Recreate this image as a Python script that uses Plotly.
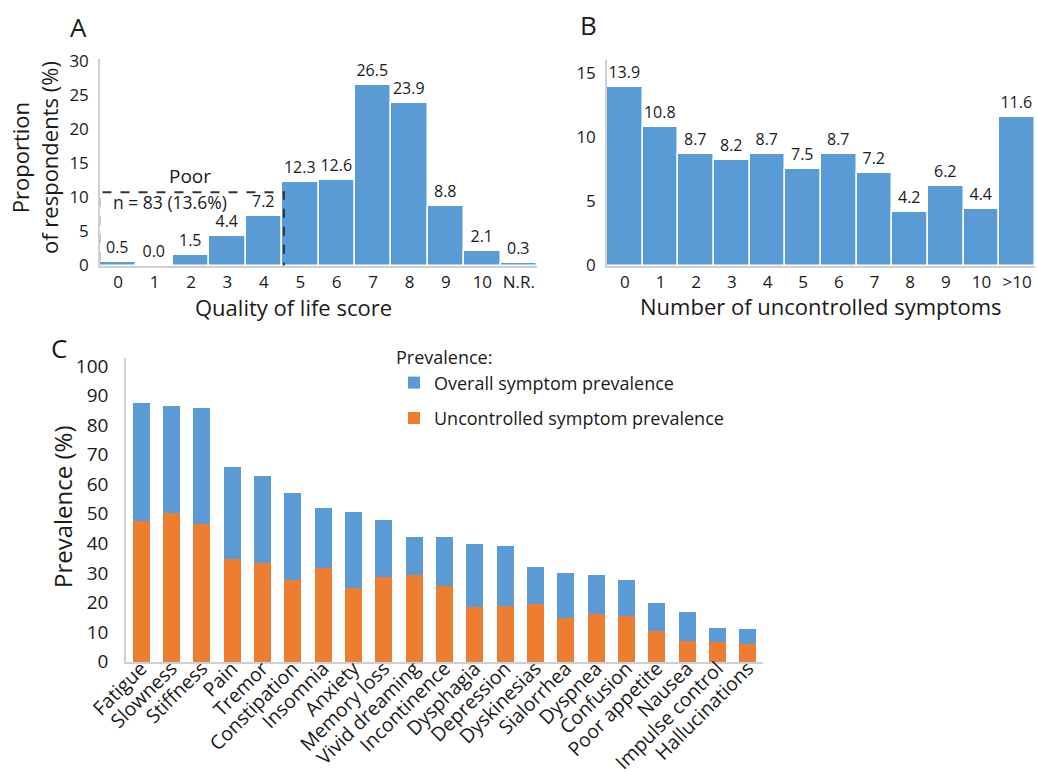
import plotly.graph_objects as go

# Panel A: quality of life score distribution
qol_scores = ["0", "1", "2", "3", "4", "5", "6", "7", "8", "9", "10", "N.R."]
qol_pct = [0.5, 0.0, 1.5, 4.4, 7.2, 12.3, 12.6, 26.5, 23.9, 8.8, 2.1, 0.3]

# Panel B: number of uncontrolled symptoms
unc_counts = ["0", "1", "2", "3", "4", "5", "6", "7", "8", "9", "10", ">10"]
unc_pct = [13.9, 10.8, 8.7, 8.2, 8.7, 7.5, 8.7, 7.2, 4.2, 6.2, 4.4, 11.6]

# Panel C: symptom prevalence
symptoms = ["Fatigue", "Slowness", "Stiffness", "Pain", "Tremor", "Constipation",
            "Insomnia", "Anxiety", "Memory loss", "Vivid dreaming", "Incontinence",
            "Dysphagia", "Depression", "Dyskinesias", "Sialorrhea", "Dyspnea",
            "Confusion", "Poor appetite", "Nausea", "Impulse control", "Hallucinations"]
overall_prev = [87.6, 86.5, 85.8, 65.9, 62.9, 56.9, 52.0, 50.5, 48.0, 42.3, 42.1,
                39.8, 39.1, 31.9, 29.9, 29.3, 27.6, 19.7, 16.7, 11.5, 11.1]
uncontrolled_prev = [47.5, 50.2, 46.7, 34.8, 33.3, 27.7, 31.8, 24.8, 28.6, 29.3, 25.6,
                     18.4, 18.9, 19.4, 14.7, 16.2, 15.3, 10.3, 7.0, 6.6, 6.0]

BLUE = "#5B9BD5"
ORANGE = "#ED7D31"
AXIS_GRAY = "#CFCFCF"
FONT = "Open Sans"
TXT = "#1a1a1a"

W, H = 1037, 772


def px_x(p):
    return p / W


def px_y(p):
    return 1 - p / H


fig = go.Figure()

fig.add_trace(go.Bar(
    x=list(range(len(qol_scores))), y=qol_pct, xaxis="x", yaxis="y",
    marker=dict(color=BLUE, line=dict(color="white", width=1.5)),
    text=[f"{v:.1f}" for v in qol_pct], textposition="outside",
    textfont=dict(size=16, color=TXT, family=FONT),
    cliponaxis=False, showlegend=False, width=1.0,
))

fig.add_trace(go.Bar(
    x=list(range(len(unc_counts))), y=unc_pct, xaxis="x2", yaxis="y2",
    marker=dict(color=BLUE, line=dict(color="white", width=1.5)),
    text=[f"{v:.1f}" for v in unc_pct], textposition="outside",
    textfont=dict(size=16, color=TXT, family=FONT),
    cliponaxis=False, showlegend=False, width=1.0,
))

fig.add_trace(go.Bar(
    x=symptoms, y=overall_prev, xaxis="x3", yaxis="y3",
    name="Overall symptom prevalence", legendgroup="overall",
    marker=dict(color=BLUE, line=dict(width=0)), width=0.56,
))
fig.add_trace(go.Bar(
    x=symptoms, y=uncontrolled_prev, xaxis="x3", yaxis="y3",
    name="Uncontrolled symptom prevalence", legendgroup="uncontrolled",
    marker=dict(color=ORANGE, line=dict(width=0)), width=0.56,
))

axis_common = dict(showgrid=False, zeroline=False, showline=True, linecolor=AXIS_GRAY,
                   linewidth=1.5, ticks="", color=TXT, automargin=False)

fig.update_layout(
    width=W, height=H,
    margin=dict(l=0, r=0, t=0, b=0),
    paper_bgcolor="white", plot_bgcolor="white",
    font=dict(family=FONT, color=TXT),
    barmode="overlay", bargap=0,
    xaxis=dict(axis_common, domain=[px_x(100), px_x(537)], anchor="y",
               range=[-0.5, 11.5], tickmode="array",
               tickvals=list(range(len(qol_scores))), ticktext=qol_scores,
               tickfont=dict(size=17)),
    yaxis=dict(axis_common, domain=[px_y(265.5), px_y(59)], anchor="x",
               range=[0, 30.3], tickvals=[0, 5, 10, 15, 20, 25, 30],
               tickfont=dict(size=17), ticklabelstandoff=6),
    xaxis2=dict(axis_common, domain=[px_x(607), px_x(1035)], anchor="y2",
                range=[-0.5, 11.5], tickmode="array",
                tickvals=list(range(len(unc_counts))), ticktext=unc_counts,
                tickfont=dict(size=17)),
    yaxis2=dict(axis_common, domain=[px_y(265.5), px_y(60)], anchor="x2",
                range=[0, 16], tickvals=[0, 5, 10, 15],
                tickfont=dict(size=17), ticklabelstandoff=6),
    xaxis3=dict(axis_common, domain=[px_x(126), px_x(763)], anchor="y3",
                range=[-0.5, 20.5], tickangle=-45, tickfont=dict(size=19.5),
                ticklabelstandoff=-14),
    yaxis3=dict(axis_common, domain=[px_y(661.7), px_y(358)], anchor="x3",
                range=[0, 102.7], tickvals=list(range(0, 101, 10)),
                tickfont=dict(size=19), ticklabelstandoff=12),
    legend=dict(
        x=px_x(394), y=px_y(341), xanchor="left", yanchor="top",
        title=dict(text="Prevalence:", font=dict(size=18, color=TXT), side="top"),
        font=dict(size=18, color=TXT), traceorder="grouped",
        bgcolor="rgba(0,0,0,0)", tracegroupgap=9,
    ),
)

# Dashed box marking the "Poor" quality-of-life group
fig.add_shape(type="rect", xref="x", yref="y", x0=-0.52, x1=4.55, y0=-0.25, y1=10.75,
              line=dict(color="#333333", width=2, dash="dash"), layer="above")

annotations = [
    dict(text="Poor", xref="x", yref="y", x=1.97, y=13.2, font=dict(size=19)),
    dict(text="n = 83 (13.6%)", xref="x", yref="y", x=1.42, y=9.35, font=dict(size=17.5)),
    # Panel letters
    dict(text="A", xref="paper", yref="paper", x=px_x(78), y=px_y(27), font=dict(size=26)),
    dict(text="B", xref="paper", yref="paper", x=px_x(588), y=px_y(25), font=dict(size=26)),
    dict(text="C", xref="paper", yref="paper", x=px_x(59), y=px_y(348), font=dict(size=26)),
    # Axis titles
    dict(text="Proportion<br>of respondents (%)", xref="paper", yref="paper",
         x=px_x(34), y=px_y(158), textangle=-90, font=dict(size=22)),
    dict(text="Quality of life score", xref="paper", yref="paper",
         x=px_x(293), y=px_y(307), font=dict(size=22)),
    dict(text="Number of uncontrolled symptoms", xref="paper", yref="paper",
         x=px_x(821), y=px_y(306), font=dict(size=22)),
    dict(text="Prevalence (%)", xref="paper", yref="paper",
         x=px_x(62), y=px_y(507), textangle=-90, font=dict(size=24)),
]
for a in annotations:
    a.setdefault("showarrow", False)
    a.setdefault("xanchor", "center")
    a.setdefault("yanchor", "middle")
    a["font"].setdefault("color", TXT)
    a["font"].setdefault("family", FONT)
    fig.add_annotation(**a)

fig.write_html("out.html")
